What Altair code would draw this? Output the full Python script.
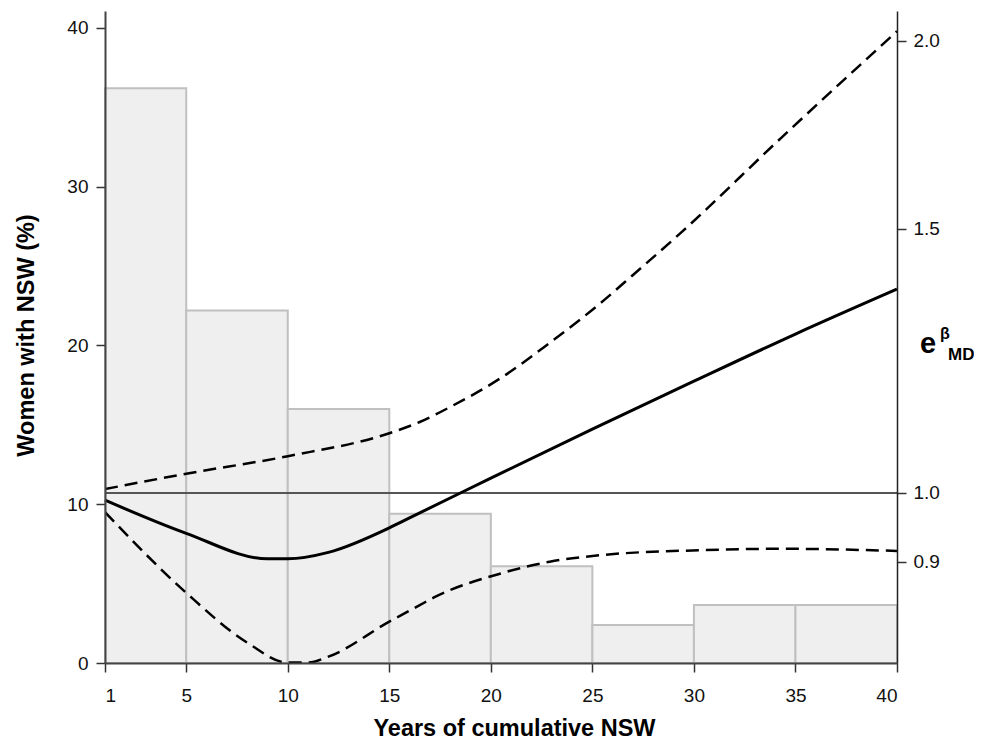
import altair as alt
import pandas as pd

# Histogram of cumulative NSW years (% of women)
bin_start = [1, 5, 10, 15, 20, 25, 30, 35]
bin_end = [5, 10, 15, 20, 25, 30, 35, 40]
pct = [36.2, 22.2, 16.0, 9.4, 6.1, 2.4, 3.65, 3.65]

# exp(beta_MD) estimate and confidence limits
est_years = [1, 5, 9, 10, 12, 15, 15.55, 18.5, 20, 25, 30, 35, 40]
est_vals = [0.989, 0.940, 0.904, 0.904, 0.913, 0.948, 0.956, 1.0, 1.023, 1.103, 1.187, 1.276, 1.367]

hi_years = [1, 5, 10, 15, 16.5, 18.0, 20.5, 22.9, 25.4, 27.0, 29.35, 34.3, 40]
hi_vals = [1.006, 1.030, 1.058, 1.096, 1.115, 1.141, 1.193, 1.259, 1.338, 1.397, 1.490, 1.724, 2.03]

lo_years = [1, 5, 8, 10, 11, 12, 15, 16.5, 17.2, 20.5, 22.9, 25.4, 30.3, 34.3, 40]
lo_vals = [0.971, 0.858, 0.795, 0.771, 0.771, 0.778, 0.821, 0.842, 0.852, 0.884, 0.900, 0.909, 0.916, 0.918, 0.915]

ref_years = [1, 40]
ref_vals = [1.0, 1.0]

FONT = "Liberation Sans"
W, H = 792, 652

bars_df = pd.DataFrame({"start": bin_start, "end": bin_end, "pct": pct})
bars_df["base"] = 0
est_df = pd.DataFrame({"year": est_years, "val": est_vals, "series": "est"})
ci_df = pd.concat([
    pd.DataFrame({"year": hi_years, "val": hi_vals, "series": "hi"}),
    pd.DataFrame({"year": lo_years, "val": lo_vals, "series": "lo"}),
])
ref_df = pd.DataFrame({"year": ref_years, "val": ref_vals})

xscale = alt.Scale(domain=[1, 40], nice=False, zero=False)
xaxis = alt.Axis(
    values=[1, 5, 10, 15, 20, 25, 30, 35, 40], title="Years of cumulative NSW",
    grid=False, tickSize=9, labelPadding=14, titleX=409, titleY=72,
    titleBaseline="alphabetic", titleAlign="center", zindex=1,
)

bars = alt.Chart(bars_df).mark_bar(
    fill="#efefef", stroke="#c0c0c0", strokeWidth=2
).encode(
    x=alt.X("start:Q", scale=xscale, axis=xaxis),
    x2="end:Q",
    y=alt.Y("pct:Q", scale=alt.Scale(domain=[0, 41.07], nice=False),
            axis=alt.Axis(values=[0, 10, 20, 30, 40], title="Women with NSW (%)",
                          orient="left", grid=False, tickSize=9, labelPadding=8,
                          titleX=-79, titleY=324, titleAngle=-90, zindex=1,
                          titleAlign="center", titleBaseline="middle")),
    y2="base:Q",
)

rscale = alt.Scale(type="log", domain=[0.7705, 2.094], nice=False)
raxis = alt.Axis(values=[0.9, 1.0, 1.5, 2.0], format=".1f", orient="right",
                 title=None, grid=False, tickSize=9, labelPadding=7, zindex=1,
                 domainColor="#222", domainWidth=1.5)

ref = alt.Chart(ref_df).mark_line(color="#555555", strokeWidth=2.2).encode(
    x=alt.X("year:Q", scale=xscale),
    y=alt.Y("val:Q", scale=rscale, axis=raxis),
)
est = alt.Chart(est_df).mark_line(color="black", strokeWidth=3, interpolate="monotone").encode(
    x=alt.X("year:Q", scale=xscale),
    y=alt.Y("val:Q", scale=rscale, axis=raxis),
)
ci = alt.Chart(ci_df).mark_line(color="black", strokeWidth=2.5, strokeDash=[13, 7],
                                interpolate="monotone", clip=True).encode(
    x=alt.X("year:Q", scale=xscale),
    y=alt.Y("val:Q", scale=rscale, axis=raxis),
    detail="series:N",
)

dummy = pd.DataFrame({"a": [0]})
t_e = alt.Chart(dummy).mark_text(text="e", font=FONT, fontSize=29, fontWeight="bold",
                                 align="left", baseline="alphabetic", color="black").encode(
    x=alt.value(815), y=alt.value(342))
t_b = alt.Chart(dummy).mark_text(text="β", font=FONT, fontSize=16, fontWeight="bold",
                                 align="left", baseline="alphabetic", color="black").encode(
    x=alt.value(835), y=alt.value(328))
t_md = alt.Chart(dummy).mark_text(text="MD", font=FONT, fontSize=17, fontWeight="bold",
                                  align="left", baseline="alphabetic", color="black").encode(
    x=alt.value(843), y=alt.value(349))

right = alt.layer(ref, est, ci)
chart = alt.layer(bars, right, t_e, t_b, t_md).resolve_scale(y="independent").properties(
    width=W, height=H,
    autosize=alt.AutoSizeParams(type="none"),
    padding={"left": 97, "top": 3, "right": 77, "bottom": 78},
).configure_view(stroke=None).configure_axis(
    labelFont=FONT, titleFont=FONT, labelFontSize=19, titleFontSize=23.5,
    titleFontWeight="bold", labelColor="#111", titleColor="black",
    domainColor="#444", domainWidth=2, tickColor="#333", tickWidth=1.5,
)

chart.save("out.html", embed_options={"renderer": "svg", "actions": False})
